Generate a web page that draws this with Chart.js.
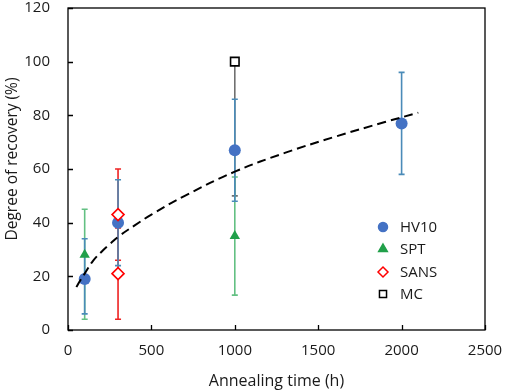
<!DOCTYPE html>
<html>
<head>
<meta charset="utf-8">
<script src="https://cdn.jsdelivr.net/npm/chart.js@4.4.1/dist/chart.umd.min.js"></script>
<style>
  html, body { margin: 0; padding: 0; background: #fff; }
  canvas { display: block; }
</style>
</head>
<body>
<canvas id="chart" width="505" height="392"></canvas>
<script>
// values
const hv10X = [100, 300, 1000, 2000];
const hv10Y = [19, 40, 67, 77];
const hv10Lo = [6, 24, 48, 58];
const hv10Hi = [34, 56, 86, 96];

const sptX = [100, 1000];
const sptY = [28, 35];
const sptLo = [4, 13];
const sptHi = [45, 57];

const sansX = [300, 300];
const sansY = [43, 21];
const sansLo = [26, 4];
const sansHi = [60, 38];

const mcX = [1000];
const mcY = [100];
const mcLo = [50];
const mcHi = [100];

// dashed trend curve, read at a few spots
const trendX = [50, 75, 100, 150, 200, 250, 300, 400, 500, 700, 1000, 1300, 1600, 1900, 2100];
const trendY = [16, 18.6, 21, 25.8, 29.1, 32, 34.7, 39, 43, 50, 59, 66, 72, 77.5, 81];

const xTicks = [0, 500, 1000, 1500, 2000, 2500];
const yTicks = [0, 20, 40, 60, 80, 100, 120];

const FONT = "'Open Sans', 'Noto Sans', sans-serif";
const TEXT = "#1a1a1a";

function pts(xs, ys) {
  return xs.map((x, i) => ({ x, y: ys[i] }));
}

const series = [
  { label: "HV10", x: hv10X, y: hv10Y, lo: hv10Lo, hi: hv10Hi, style: "circle", radius: 6,
    fill: "#4472C4", stroke: "#4472C4", errColor: "#4a8bb8" },
  { label: "SPT", x: sptX, y: sptY, lo: sptLo, hi: sptHi, style: "triangle", radius: 6,
    fill: "#21a04a", stroke: "#21a04a", errColor: "#63c083" },
  { label: "SANS", x: sansX, y: sansY, lo: sansLo, hi: sansHi, style: "rectRot", radius: 6,
    fill: "#ffffff", stroke: "#ff0000", errColor: "#ee2222" },
  { label: "MC", x: mcX, y: mcY, lo: mcLo, hi: mcHi, style: "rect", radius: 6,
    fill: "#ffffff", stroke: "#000000", errColor: "#707070" }
];

// error bars drawn under the markers
const errorBars = {
  id: "errorBars",
  beforeDatasetsDraw(chart) {
    const { ctx, scales: { x, y } } = chart;
    ctx.save();
    ctx.lineWidth = 1.6;
    const order = [3, 1, 2, 0];
    for (const idx of order) {
      const s = series[idx];
      ctx.strokeStyle = s.errColor;
      s.x.forEach((xv, i) => {
        const px = x.getPixelForValue(xv);
        const top = y.getPixelForValue(s.hi[i]);
        const bot = y.getPixelForValue(s.lo[i]);
        ctx.beginPath();
        ctx.moveTo(px, top);
        ctx.lineTo(px, bot);
        if (s.hi[i] !== s.y[i]) {
          ctx.moveTo(px - 3, top);
          ctx.lineTo(px + 3, top);
        }
        ctx.moveTo(px - 3, bot);
        ctx.lineTo(px + 3, bot);
        ctx.stroke();
      });
    }
    ctx.restore();
  }
};

// frame, inward ticks, y title and legend
const frame = {
  id: "frame",
  afterDraw(chart) {
    const { ctx, chartArea: a, scales: { x, y } } = chart;
    ctx.save();
    ctx.strokeStyle = "#000";
    ctx.lineWidth = 1.3;
    ctx.strokeRect(a.left, a.top, a.right - a.left, a.bottom - a.top);
    ctx.beginPath();
    for (const t of xTicks) {
      const px = Math.round(x.getPixelForValue(t)) + 0.5;
      ctx.moveTo(px, a.bottom);
      ctx.lineTo(px, a.bottom - 5);
    }
    for (const t of yTicks) {
      const py = Math.round(y.getPixelForValue(t)) + 0.5;
      ctx.moveTo(a.left, py);
      ctx.lineTo(a.left + 5, py);
    }
    ctx.stroke();

    // y axis title sits a bit above the middle in the original
    ctx.save();
    ctx.translate(13, 159);
    ctx.rotate(-Math.PI / 2);
    ctx.font = "15.5px " + FONT;
    ctx.fillStyle = TEXT;
    ctx.textAlign = "center";
    ctx.textBaseline = "middle";
    ctx.fillText("Degree of recovery (%)", 0, 0);
    ctx.restore();

    const lx = 383, tx = 400;
    const rows = [227, 249, 272, 294];
    ctx.font = "15px " + FONT;
    ctx.textBaseline = "middle";
    ctx.textAlign = "left";
    series.forEach((s, i) => {
      ctx.fillStyle = s.fill;
      ctx.strokeStyle = s.stroke;
      ctx.lineWidth = 1.5;
      Chart.helpers.drawPoint(ctx, { pointStyle: s.style, radius: s.style === "circle" ? 4.5 : 5, borderWidth: 1.5 }, lx, rows[i]);
      ctx.fillStyle = TEXT;
      ctx.fillText(s.label, tx, rows[i] + 1);
    });
    ctx.restore();
  }
};

const datasets = series.map(s => ({
  label: s.label,
  data: pts(s.x, s.y),
  pointStyle: s.style,
  pointRadius: s.radius,
  pointBackgroundColor: s.fill,
  pointBorderColor: s.stroke,
  pointBorderWidth: s.fill === "#ffffff" ? 1.6 : 0,
  showLine: false
})).reverse();

datasets.unshift({
  label: "Trend",
  data: pts(trendX, trendY),
  showLine: true,
  borderColor: "#000",
  borderWidth: 2,
  borderDash: [9, 5],
  pointRadius: 0,
  tension: 0.4,
  fill: false
});

new Chart(document.getElementById("chart"), {
  type: "scatter",
  data: { datasets },
  options: {
    responsive: false,
    animation: false,
    devicePixelRatio: 1,
    layout: { padding: { top: 8, right: 20, left: 0, bottom: 0 } },
    plugins: { legend: { display: false }, tooltip: { enabled: false } },
    scales: {
      x: {
        type: "linear",
        min: 0, max: 2500,
        afterBuildTicks: s => { s.ticks = xTicks.map(v => ({ value: v })); },
        afterFit: s => { s.height = 62; s.paddingLeft = 0; s.paddingRight = 0; },
        grid: { display: false, drawTicks: false },
        border: { display: false },
        ticks: { color: TEXT, font: { family: FONT, size: 15 }, padding: 12, maxRotation: 0,
                 callback: v => String(v) },
        title: { display: true, text: "Annealing time (h)", color: TEXT,
                 font: { family: FONT, size: 16 }, padding: { top: 2, bottom: 1 } }
      },
      y: {
        type: "linear",
        min: 0, max: 120,
        afterBuildTicks: s => { s.ticks = yTicks.map(v => ({ value: v })); },
        afterFit: s => { s.width = 68; s.paddingTop = 0; s.paddingBottom = 0; },
        grid: { display: false, drawTicks: false },
        border: { display: false },
        ticks: { color: TEXT, font: { family: FONT, size: 15 }, padding: 18,
                 callback: v => String(v) },
        title: { display: false }
      }
    }
  },
  plugins: [errorBars, frame]
});
</script>
</body>
</html>
